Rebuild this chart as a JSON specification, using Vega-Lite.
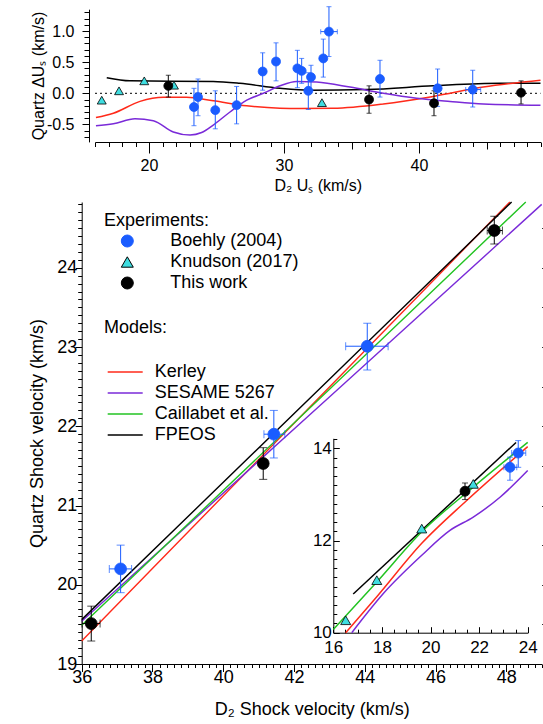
{
  "$schema": "https://vega.github.io/schema/vega-lite/v6.json",
  "width": 543,
  "height": 724,
  "autosize": "none",
  "padding": 0,
  "config": {
    "font": "Liberation Sans",
    "view": {"stroke": null},
    "axis": {"grid": false, "domainColor": "black", "tickColor": "black", "labelColor": "black", "titleColor": "black", "titleFontWeight": "normal", "labelOverlap": false, "labelFlush": false, "labelBound": false, "domainWidth": 1, "tickWidth": 1},
    "legend": {"titleFontWeight": "normal", "titleColor": "black", "labelColor": "black", "padding": 0, "titleFontSize": 18, "labelFontSize": 18}
  },
  "datasets": {
    "top_pts": [
      {"source": "Knudson (2017)", "x": 16.5, "y": -0.11},
      {"source": "Knudson (2017)", "x": 17.78, "y": 0.04},
      {"source": "Knudson (2017)", "x": 19.65, "y": 0.2},
      {"source": "Knudson (2017)", "x": 21.85, "y": 0.13},
      {"source": "Knudson (2017)", "x": 32.81, "y": -0.15},
      {"source": "This work", "x": 21.43, "y": 0.12, "ylo": -0.06, "yhi": 0.29},
      {"source": "This work", "x": 36.3, "y": -0.1, "ylo": -0.32, "yhi": 0.12},
      {"source": "This work", "x": 41.11, "y": -0.16, "ylo": -0.36, "yhi": 0.04},
      {"source": "This work", "x": 47.56, "y": 0.01, "ylo": -0.17, "yhi": 0.2},
      {"source": "Boehly (2004)", "x": 23.33, "y": -0.22, "ylo": -0.52, "yhi": 0.08},
      {"source": "Boehly (2004)", "x": 23.63, "y": -0.06, "ylo": -0.36, "yhi": 0.23},
      {"source": "Boehly (2004)", "x": 24.91, "y": -0.27, "ylo": -0.57, "yhi": 0.04},
      {"source": "Boehly (2004)", "x": 26.49, "y": -0.19, "ylo": -0.49, "yhi": 0.11},
      {"source": "Boehly (2004)", "x": 28.42, "y": 0.35, "ylo": 0.05, "yhi": 0.65},
      {"source": "Boehly (2004)", "x": 29.41, "y": 0.51, "ylo": 0.2, "yhi": 0.81},
      {"source": "Boehly (2004)", "x": 30.99, "y": 0.4, "ylo": 0.09, "yhi": 0.69},
      {"source": "Boehly (2004)", "x": 31.31, "y": 0.36, "ylo": 0.16, "yhi": 0.56},
      {"source": "Boehly (2004)", "x": 31.8, "y": 0.04, "ylo": -0.26, "yhi": 0.33},
      {"source": "Boehly (2004)", "x": 32.0, "y": 0.26, "ylo": 0.05, "yhi": 0.45},
      {"source": "Boehly (2004)", "x": 32.91, "y": 0.56, "ylo": 0.26, "yhi": 0.87},
      {"source": "Boehly (2004)", "x": 33.33, "y": 0.99, "ylo": 0.59, "yhi": 1.39, "xlo": 32.72, "xhi": 33.95},
      {"source": "Boehly (2004)", "x": 37.11, "y": 0.23, "ylo": -0.06, "yhi": 0.53},
      {"source": "Boehly (2004)", "x": 41.38, "y": 0.08, "ylo": -0.21, "yhi": 0.39},
      {"source": "Boehly (2004)", "x": 43.98, "y": 0.06, "ylo": -0.22, "yhi": 0.37, "xlo": 43.46, "xhi": 44.57}
    ],
    "top_lines": [
      {"model": "FPEOS", "x": 16.87, "y": 0.25},
      {"model": "FPEOS", "x": 18.59, "y": 0.2},
      {"model": "FPEOS", "x": 24.76, "y": 0.19},
      {"model": "FPEOS", "x": 26.74, "y": 0.16},
      {"model": "FPEOS", "x": 29.7, "y": 0.08},
      {"model": "FPEOS", "x": 31.93, "y": 0.05},
      {"model": "FPEOS", "x": 36.13, "y": 0.06},
      {"model": "FPEOS", "x": 41.06, "y": 0.12},
      {"model": "FPEOS", "x": 46.0, "y": 0.16},
      {"model": "FPEOS", "x": 49.0, "y": 0.16},
      {"model": "Kerley", "x": 16.07, "y": -0.39},
      {"model": "Kerley", "x": 17.36, "y": -0.32},
      {"model": "Kerley", "x": 19.33, "y": -0.13},
      {"model": "Kerley", "x": 21.06, "y": -0.065},
      {"model": "Kerley", "x": 22.79, "y": -0.065},
      {"model": "Kerley", "x": 24.76, "y": -0.12},
      {"model": "Kerley", "x": 27.23, "y": -0.2},
      {"model": "Kerley", "x": 29.7, "y": -0.24},
      {"model": "Kerley", "x": 31.19, "y": -0.245},
      {"model": "Kerley", "x": 33.65, "y": -0.24},
      {"model": "Kerley", "x": 37.36, "y": -0.17},
      {"model": "Kerley", "x": 41.06, "y": -0.05},
      {"model": "Kerley", "x": 44.76, "y": 0.1},
      {"model": "Kerley", "x": 49.0, "y": 0.21},
      {"model": "SESAME 5267", "x": 16.07, "y": -0.52},
      {"model": "SESAME 5267", "x": 17.36, "y": -0.49},
      {"model": "SESAME 5267", "x": 18.96, "y": -0.41},
      {"model": "SESAME 5267", "x": 20.32, "y": -0.44},
      {"model": "SESAME 5267", "x": 21.8, "y": -0.62},
      {"model": "SESAME 5267", "x": 23.04, "y": -0.67},
      {"model": "SESAME 5267", "x": 23.9, "y": -0.63},
      {"model": "SESAME 5267", "x": 24.76, "y": -0.51},
      {"model": "SESAME 5267", "x": 26.0, "y": -0.3},
      {"model": "SESAME 5267", "x": 27.24, "y": -0.11},
      {"model": "SESAME 5267", "x": 28.47, "y": 0.0},
      {"model": "SESAME 5267", "x": 29.7, "y": 0.12},
      {"model": "SESAME 5267", "x": 30.94, "y": 0.19},
      {"model": "SESAME 5267", "x": 32.42, "y": 0.18},
      {"model": "SESAME 5267", "x": 34.89, "y": 0.1},
      {"model": "SESAME 5267", "x": 37.36, "y": 0.0},
      {"model": "SESAME 5267", "x": 39.83, "y": -0.08},
      {"model": "SESAME 5267", "x": 42.3, "y": -0.13},
      {"model": "SESAME 5267", "x": 44.76, "y": -0.17},
      {"model": "SESAME 5267", "x": 49.0, "y": -0.19}
    ],
    "main_pts": [
      {"source": "This work", "x": 36.27, "y": 19.51, "ylo": 19.29, "yhi": 19.73, "xlo": 36.01, "xhi": 36.52},
      {"source": "Boehly (2004)", "x": 37.1, "y": 20.2, "ylo": 19.9, "yhi": 20.5, "xlo": 36.78, "xhi": 37.41},
      {"source": "This work", "x": 41.13, "y": 21.53, "ylo": 21.33, "yhi": 21.73},
      {"source": "Boehly (2004)", "x": 41.43, "y": 21.9, "ylo": 21.6, "yhi": 22.2, "xlo": 41.15, "xhi": 41.74},
      {"source": "Boehly (2004)", "x": 44.07, "y": 23.01, "ylo": 22.71, "yhi": 23.3, "xlo": 43.46, "xhi": 44.66},
      {"source": "This work", "x": 47.66, "y": 24.47, "ylo": 24.3, "yhi": 24.65, "xlo": 47.46, "xhi": 47.89}
    ],
    "main_lines": [
      {"model": "Kerley", "x": 36.0, "y": 19.29},
      {"model": "Kerley", "x": 43.23, "y": 22.6},
      {"model": "Kerley", "x": 48.1, "y": 24.83},
      {"model": "SESAME 5267", "x": 36.0, "y": 19.54},
      {"model": "SESAME 5267", "x": 43.25, "y": 22.47},
      {"model": "SESAME 5267", "x": 49.0, "y": 24.8},
      {"model": "Caillabet et al.", "x": 36.0, "y": 19.49},
      {"model": "Caillabet et al.", "x": 43.01, "y": 22.47},
      {"model": "Caillabet et al.", "x": 48.55, "y": 24.83},
      {"model": "FPEOS", "x": 36.0, "y": 19.56},
      {"model": "FPEOS", "x": 42.95, "y": 22.57},
      {"model": "FPEOS", "x": 48.15, "y": 24.83}
    ],
    "inset_pts": [
      {"source": "Knudson (2017)", "x": 16.51, "y": 10.27},
      {"source": "Knudson (2017)", "x": 17.79, "y": 11.14},
      {"source": "Knudson (2017)", "x": 19.64, "y": 12.26},
      {"source": "Knudson (2017)", "x": 21.76, "y": 13.23},
      {"source": "This work", "x": 21.42, "y": 13.07, "ylo": 12.89, "yhi": 13.25},
      {"source": "Boehly (2004)", "x": 23.27, "y": 13.59, "ylo": 13.31, "yhi": 13.81, "xlo": 23.02, "xhi": 23.55},
      {"source": "Boehly (2004)", "x": 23.61, "y": 13.9, "ylo": 13.59, "yhi": 14.17, "xlo": 23.34, "xhi": 23.92}
    ],
    "inset_lines": [
      {"model": "FPEOS", "x": 16.82, "y": 10.84},
      {"model": "FPEOS", "x": 23.52, "y": 14.13},
      {"model": "Caillabet et al.", "x": 16.0, "y": 10.07},
      {"model": "Caillabet et al.", "x": 17.79, "y": 11.1},
      {"model": "Caillabet et al.", "x": 19.64, "y": 12.19},
      {"model": "Caillabet et al.", "x": 21.76, "y": 13.16},
      {"model": "Caillabet et al.", "x": 24.0, "y": 14.13},
      {"model": "Kerley", "x": 16.51, "y": 10.0},
      {"model": "Kerley", "x": 17.79, "y": 10.78},
      {"model": "Kerley", "x": 19.64, "y": 11.94},
      {"model": "Kerley", "x": 21.49, "y": 12.87},
      {"model": "Kerley", "x": 24.0, "y": 14.04},
      {"model": "SESAME 5267", "x": 16.76, "y": 10.0},
      {"model": "SESAME 5267", "x": 18.06, "y": 10.85},
      {"model": "SESAME 5267", "x": 19.64, "y": 11.68},
      {"model": "SESAME 5267", "x": 20.8, "y": 12.22},
      {"model": "SESAME 5267", "x": 21.76, "y": 12.51},
      {"model": "SESAME 5267", "x": 22.86, "y": 12.94},
      {"model": "SESAME 5267", "x": 24.0, "y": 13.52}
    ]
  },
  "layer": [
    {
      "layer": [
        {
          "data": {"values": [{}]},
          "mark": {"type": "rule", "strokeDash": [2, 3], "color": "black", "strokeWidth": 1},
          "encoding": {
            "x": {"datum": 16, "type": "quantitative", "scale": {"domain": [16, 49], "range": [95, 540.5], "nice": false, "zero": false},
              "axis": {"orient": "bottom", "offset": -582, "values": [20, 30, 40], "format": "d", "labelOverlap": false, "tickSize": 11, "labelPadding": 4,
                "labelFontSize": 16, "title": "D₂ Uₛ (km/s)", "titleFontSize": 16, "titlePadding": 4}},
            "x2": {"datum": 49},
            "y": {"datum": 0, "type": "quantitative", "scale": {"domain": [-0.78, 1.35], "range": [141.9, 9.2], "nice": false, "zero": false},
              "axis": {"orient": "left", "offset": -89, "values": [-0.5, 0, 0.5, 1.0], "format": ".1f", "labelOverlap": false,
                "labelExpr": "replace(datum.label, '−', '-')", "tickSize": 7, "labelPadding": 8,
                "labelFontSize": 16, "title": "Quartz ΔUₛ (km/s)", "titleFontSize": 16, "titlePadding": 0}}
          }
        },
        {
          "data": {"name": "top_lines"},
          "mark": {"type": "line", "interpolate": "monotone", "strokeWidth": 1.5},
          "encoding": {
            "x": {"field": "x", "type": "quantitative", "scale": {"domain": [16, 49], "range": [95, 540.5], "nice": false, "zero": false}},
            "y": {"field": "y", "type": "quantitative", "scale": {"domain": [-0.78, 1.35], "range": [141.9, 9.2], "nice": false, "zero": false}},
            "color": {"field": "model", "type": "nominal",
              "scale": {"domain": ["Kerley", "SESAME 5267", "Caillabet et al.", "FPEOS"], "range": ["#ff2a1a", "#7a2ad8", "#22c322", "#000000"]},
              "legend": {"title": "Models:", "orient": "none", "legendX": 104, "legendY": 319, "symbolType": "stroke", "symbolSize": 1225, "symbolStrokeWidth": 1.5, "symbolOffset": 2.7, "labelOffset": 11, "titlePadding": 24.5, "rowPadding": 0, "clipHeight": 21}}
          }
        },
        {
          "data": {"name": "top_pts"},
          "transform": [{"filter": "isValid(datum.ylo)"}],
          "mark": {"type": "rule", "strokeWidth": 1},
          "encoding": {
            "x": {"field": "x", "type": "quantitative", "scale": {"domain": [16, 49], "range": [95, 540.5], "nice": false, "zero": false}},
            "y": {"field": "ylo", "type": "quantitative", "scale": {"domain": [-0.78, 1.35], "range": [141.9, 9.2], "nice": false, "zero": false}},
            "y2": {"field": "yhi"},
            "stroke": {"field": "source", "type": "nominal", "scale": {"domain": ["Boehly (2004)", "Knudson (2017)", "This work"], "range": ["#1a5cff", "#000000", "#000000"]}}
          }
        },
        {
          "data": {"name": "top_pts"},
          "transform": [{"filter": "isValid(datum.xlo)"}],
          "mark": {"type": "rule", "strokeWidth": 1},
          "encoding": {
            "x": {"field": "xlo", "type": "quantitative", "scale": {"domain": [16, 49], "range": [95, 540.5], "nice": false, "zero": false}},
            "x2": {"field": "xhi"},
            "y": {"field": "y", "type": "quantitative", "scale": {"domain": [-0.78, 1.35], "range": [141.9, 9.2], "nice": false, "zero": false}},
            "stroke": {"field": "source", "type": "nominal", "scale": {"domain": ["Boehly (2004)", "Knudson (2017)", "This work"], "range": ["#1a5cff", "#000000", "#000000"]}}
          }
        },
        {
          "data": {"name": "top_pts"},
          "transform": [{"filter": "isValid(datum.ylo)"}],
          "mark": {"type": "tick", "orient": "horizontal", "size": 5, "thickness": 1},
          "encoding": {
            "x": {"field": "x", "type": "quantitative", "scale": {"domain": [16, 49], "range": [95, 540.5], "nice": false, "zero": false}},
            "y": {"field": "ylo", "type": "quantitative", "scale": {"domain": [-0.78, 1.35], "range": [141.9, 9.2], "nice": false, "zero": false}},
            "fill": {"field": "source", "type": "nominal", "scale": {"domain": ["Boehly (2004)", "Knudson (2017)", "This work"], "range": ["#1a5cff", "#3fdde0", "#000000"]}}
          }
        },
        {
          "data": {"name": "top_pts"},
          "transform": [{"filter": "isValid(datum.yhi)"}],
          "mark": {"type": "tick", "orient": "horizontal", "size": 5, "thickness": 1},
          "encoding": {
            "x": {"field": "x", "type": "quantitative", "scale": {"domain": [16, 49], "range": [95, 540.5], "nice": false, "zero": false}},
            "y": {"field": "yhi", "type": "quantitative", "scale": {"domain": [-0.78, 1.35], "range": [141.9, 9.2], "nice": false, "zero": false}},
            "fill": {"field": "source", "type": "nominal", "scale": {"domain": ["Boehly (2004)", "Knudson (2017)", "This work"], "range": ["#1a5cff", "#3fdde0", "#000000"]}}
          }
        },
        {
          "data": {"name": "top_pts"},
          "transform": [{"filter": "isValid(datum.xlo)"}],
          "mark": {"type": "tick", "orient": "vertical", "size": 5, "thickness": 1},
          "encoding": {
            "x": {"field": "xlo", "type": "quantitative", "scale": {"domain": [16, 49], "range": [95, 540.5], "nice": false, "zero": false}},
            "y": {"field": "y", "type": "quantitative", "scale": {"domain": [-0.78, 1.35], "range": [141.9, 9.2], "nice": false, "zero": false}},
            "fill": {"field": "source", "type": "nominal", "scale": {"domain": ["Boehly (2004)", "Knudson (2017)", "This work"], "range": ["#1a5cff", "#3fdde0", "#000000"]}}
          }
        },
        {
          "data": {"name": "top_pts"},
          "transform": [{"filter": "isValid(datum.xhi)"}],
          "mark": {"type": "tick", "orient": "vertical", "size": 5, "thickness": 1},
          "encoding": {
            "x": {"field": "xhi", "type": "quantitative", "scale": {"domain": [16, 49], "range": [95, 540.5], "nice": false, "zero": false}},
            "y": {"field": "y", "type": "quantitative", "scale": {"domain": [-0.78, 1.35], "range": [141.9, 9.2], "nice": false, "zero": false}},
            "fill": {"field": "source", "type": "nominal", "scale": {"domain": ["Boehly (2004)", "Knudson (2017)", "This work"], "range": ["#1a5cff", "#3fdde0", "#000000"]}}
          }
        },
        {
          "data": {"name": "top_pts"},
          "mark": {"type": "point", "filled": true, "size": 80, "strokeWidth": 0.8, "opacity": 1},
          "encoding": {
            "x": {"field": "x", "type": "quantitative", "scale": {"domain": [16, 49], "range": [95, 540.5], "nice": false, "zero": false}},
            "y": {"field": "y", "type": "quantitative", "scale": {"domain": [-0.78, 1.35], "range": [141.9, 9.2], "nice": false, "zero": false}},
            "fill": {"field": "source", "type": "nominal", "scale": {"domain": ["Boehly (2004)", "Knudson (2017)", "This work"], "range": ["#1a5cff", "#3fdde0", "#000000"]},
              "legend": {"title": "Experiments:", "orient": "none", "legendX": 104, "legendY": 212, "symbolSize": 144, "symbolStrokeWidth": 1, "symbolOffset": 14.3, "labelOffset": 34, "titlePadding": 2, "rowPadding": 3}},
            "stroke": {"field": "source", "type": "nominal", "scale": {"domain": ["Boehly (2004)", "Knudson (2017)", "This work"], "range": ["#1a5cff", "#000000", "#000000"]}},
            "shape": {"field": "source", "type": "nominal", "scale": {"domain": ["Boehly (2004)", "Knudson (2017)", "This work"], "range": ["circle", "triangle-up", "circle"]}}
          }
        }
      ]
    },
    {
      "data": {"name": "top_pts"},
      "mark": {"type": "point", "opacity": 0},
      "encoding": {
        "x": {"field": "x", "type": "quantitative", "scale": {"domain": [16, 49], "range": [95, 540.5], "nice": false, "zero": false},
          "axis": {"orient": "bottom", "offset": -582, "values": [16,17,18,19,21,22,23,24,26,27,28,29,31,32,33,34,36,37,38,39,41,42,43,44,46,47,48,49], "labels": false, "domain": false, "tickSize": 4.5, "title": null}},
        "y": {"field": "y", "type": "quantitative", "scale": {"domain": [-0.78, 1.35], "range": [141.9, 9.2], "nice": false, "zero": false},
          "axis": {"orient": "left", "offset": -89, "values": [-0.7,-0.6,-0.4,-0.3,-0.2,-0.1,0.1,0.2,0.3,0.4,0.6,0.7,0.8,0.9,1.1,1.2,1.3], "labels": false, "domain": false, "tickSize": 5, "title": null}}
      }
    },
    {
      "data": {"name": "top_pts"},
      "mark": {"type": "point", "opacity": 0},
      "encoding": {
        "x": {"field": "x", "type": "quantitative", "scale": {"domain": [16, 49], "range": [95, 540.5], "nice": false, "zero": false},
          "axis": {"orient": "bottom", "offset": -582, "values": [25, 35, 45], "labels": false, "domain": false, "tickSize": 7, "title": null}}
      }
    },
    {
      "layer": [
        {
          "data": {"name": "main_lines"},
          "mark": {"type": "line", "strokeWidth": 1.4},
          "encoding": {
            "x": {"field": "x", "type": "quantitative", "scale": {"domain": [36, 49], "range": [81.7, 541.7], "nice": false, "zero": false},
              "axis": {"orient": "bottom", "offset": -60, "values": [36, 38, 40, 42, 44, 46, 48], "format": "d", "labelOverlap": false, "tickSize": 7.5, "labelPadding": -3,
                "labelFontSize": 18, "title": "D₂ Shock velocity (km/s)", "titleFontSize": 18, "titlePadding": 14}},
            "y": {"field": "y", "type": "quantitative", "scale": {"domain": [19, 24.83], "range": [664, 202], "nice": false, "zero": false},
              "axis": {"orient": "left", "offset": -81.7, "values": [19, 20, 21, 22, 23, 24], "format": "d", "labelOverlap": false, "tickSize": 6.5, "labelPadding": -1.5,
                "labelFontSize": 18, "title": "Quartz Shock velocity (km/s)", "titleFontSize": 18, "titlePadding": 10}},
            "color": {"field": "model", "type": "nominal", "scale": {"domain": ["Kerley", "SESAME 5267", "Caillabet et al.", "FPEOS"], "range": ["#ff2a1a", "#7a2ad8", "#22c322", "#000000"]}}
          }
        },
        {
          "data": {"name": "main_pts"},
          "transform": [{"filter": "isValid(datum.ylo)"}],
          "mark": {"type": "rule", "strokeWidth": 1},
          "encoding": {
            "x": {"field": "x", "type": "quantitative", "scale": {"domain": [36, 49], "range": [81.7, 541.7], "nice": false, "zero": false}},
            "y": {"field": "ylo", "type": "quantitative", "scale": {"domain": [19, 24.83], "range": [664, 202], "nice": false, "zero": false}},
            "y2": {"field": "yhi"},
            "stroke": {"field": "source", "type": "nominal", "scale": {"domain": ["Boehly (2004)", "Knudson (2017)", "This work"], "range": ["#1a5cff", "#000000", "#000000"]}}
          }
        },
        {
          "data": {"name": "main_pts"},
          "transform": [{"filter": "isValid(datum.xlo)"}],
          "mark": {"type": "rule", "strokeWidth": 1},
          "encoding": {
            "x": {"field": "xlo", "type": "quantitative", "scale": {"domain": [36, 49], "range": [81.7, 541.7], "nice": false, "zero": false}},
            "x2": {"field": "xhi"},
            "y": {"field": "y", "type": "quantitative", "scale": {"domain": [19, 24.83], "range": [664, 202], "nice": false, "zero": false}},
            "stroke": {"field": "source", "type": "nominal", "scale": {"domain": ["Boehly (2004)", "Knudson (2017)", "This work"], "range": ["#1a5cff", "#000000", "#000000"]}}
          }
        },
        {
          "data": {"name": "main_pts"},
          "transform": [{"filter": "isValid(datum.ylo)"}],
          "mark": {"type": "tick", "orient": "horizontal", "size": 8, "thickness": 1},
          "encoding": {
            "x": {"field": "x", "type": "quantitative", "scale": {"domain": [36, 49], "range": [81.7, 541.7], "nice": false, "zero": false}},
            "y": {"field": "ylo", "type": "quantitative", "scale": {"domain": [19, 24.83], "range": [664, 202], "nice": false, "zero": false}},
            "fill": {"field": "source", "type": "nominal", "scale": {"domain": ["Boehly (2004)", "Knudson (2017)", "This work"], "range": ["#1a5cff", "#3fdde0", "#000000"]}}
          }
        },
        {
          "data": {"name": "main_pts"},
          "transform": [{"filter": "isValid(datum.yhi)"}],
          "mark": {"type": "tick", "orient": "horizontal", "size": 8, "thickness": 1},
          "encoding": {
            "x": {"field": "x", "type": "quantitative", "scale": {"domain": [36, 49], "range": [81.7, 541.7], "nice": false, "zero": false}},
            "y": {"field": "yhi", "type": "quantitative", "scale": {"domain": [19, 24.83], "range": [664, 202], "nice": false, "zero": false}},
            "fill": {"field": "source", "type": "nominal", "scale": {"domain": ["Boehly (2004)", "Knudson (2017)", "This work"], "range": ["#1a5cff", "#3fdde0", "#000000"]}}
          }
        },
        {
          "data": {"name": "main_pts"},
          "transform": [{"filter": "isValid(datum.xlo)"}],
          "mark": {"type": "tick", "orient": "vertical", "size": 8, "thickness": 1},
          "encoding": {
            "x": {"field": "xlo", "type": "quantitative", "scale": {"domain": [36, 49], "range": [81.7, 541.7], "nice": false, "zero": false}},
            "y": {"field": "y", "type": "quantitative", "scale": {"domain": [19, 24.83], "range": [664, 202], "nice": false, "zero": false}},
            "fill": {"field": "source", "type": "nominal", "scale": {"domain": ["Boehly (2004)", "Knudson (2017)", "This work"], "range": ["#1a5cff", "#3fdde0", "#000000"]}}
          }
        },
        {
          "data": {"name": "main_pts"},
          "transform": [{"filter": "isValid(datum.xhi)"}],
          "mark": {"type": "tick", "orient": "vertical", "size": 8, "thickness": 1},
          "encoding": {
            "x": {"field": "xhi", "type": "quantitative", "scale": {"domain": [36, 49], "range": [81.7, 541.7], "nice": false, "zero": false}},
            "y": {"field": "y", "type": "quantitative", "scale": {"domain": [19, 24.83], "range": [664, 202], "nice": false, "zero": false}},
            "fill": {"field": "source", "type": "nominal", "scale": {"domain": ["Boehly (2004)", "Knudson (2017)", "This work"], "range": ["#1a5cff", "#3fdde0", "#000000"]}}
          }
        },
        {
          "data": {"name": "main_pts"},
          "mark": {"type": "point", "filled": true, "size": 140, "strokeWidth": 0.8, "opacity": 1},
          "encoding": {
            "x": {"field": "x", "type": "quantitative", "scale": {"domain": [36, 49], "range": [81.7, 541.7], "nice": false, "zero": false}},
            "y": {"field": "y", "type": "quantitative", "scale": {"domain": [19, 24.83], "range": [664, 202], "nice": false, "zero": false}},
            "fill": {"field": "source", "type": "nominal", "scale": {"domain": ["Boehly (2004)", "Knudson (2017)", "This work"], "range": ["#1a5cff", "#3fdde0", "#000000"]}},
            "stroke": {"field": "source", "type": "nominal", "scale": {"domain": ["Boehly (2004)", "Knudson (2017)", "This work"], "range": ["#1a5cff", "#000000", "#000000"]}},
            "shape": {"field": "source", "type": "nominal", "scale": {"domain": ["Boehly (2004)", "Knudson (2017)", "This work"], "range": ["circle", "triangle-up", "circle"]}}
          }
        }
      ]
    },
    {
      "data": {"name": "main_pts"},
      "mark": {"type": "point", "opacity": 0},
      "encoding": {
        "x": {"field": "x", "type": "quantitative", "scale": {"domain": [36, 49], "range": [81.7, 541.7], "nice": false, "zero": false},
          "axis": {"orient": "bottom", "offset": -60, "values": [36.2,36.4,36.6,36.8,37,37.2,37.4,37.6,37.8,38.2,38.4,38.6,38.8,39,39.2,39.4,39.6,39.8,40.2,40.4,40.6,40.8,41,41.2,41.4,41.6,41.8,42.2,42.4,42.6,42.8,43,43.2,43.4,43.6,43.8,44.2,44.4,44.6,44.8,45,45.2,45.4,45.6,45.8,46.2,46.4,46.6,46.8,47,47.2,47.4,47.6,47.8,48.2,48.4,48.6,48.8,49], "labels": false, "domain": false, "tickSize": 3.5, "title": null}},
        "y": {"field": "y", "type": "quantitative", "scale": {"domain": [19, 24.83], "range": [664, 202], "nice": false, "zero": false},
          "axis": {"orient": "left", "offset": -81.7, "values": [19.1,19.2,19.3,19.4,19.5,19.6,19.7,19.8,19.9,20.1,20.2,20.3,20.4,20.5,20.6,20.7,20.8,20.9,21.1,21.2,21.3,21.4,21.5,21.6,21.7,21.8,21.9,22.1,22.2,22.3,22.4,22.5,22.6,22.7,22.8,22.9,23.1,23.2,23.3,23.4,23.5,23.6,23.7,23.8,23.9,24.1,24.2,24.3,24.4,24.5,24.6,24.7,24.8], "labels": false, "domain": false, "tickSize": 4, "title": null}}
      }
    },
    {
      "data": {"name": "main_pts"},
      "mark": {"type": "point", "opacity": 0},
      "encoding": {
        "y": {"field": "y", "type": "quantitative", "scale": {"domain": [19, 24.83], "range": [664, 202], "nice": false, "zero": false},
          "axis": {"orient": "right", "offset": -1.3, "values": [19.5,20,20.5,21,21.5,22,22.5,23,23.5,24,24.5], "labels": false, "domain": false, "tickSize": 4, "title": null}}
      }
    },
    {
      "layer": [
        {
          "data": {"name": "inset_lines"},
          "mark": {"type": "line", "interpolate": "monotone", "strokeWidth": 1.5},
          "encoding": {
            "x": {"field": "x", "type": "quantitative", "scale": {"domain": [16, 24], "range": [333.3, 527.7], "nice": false, "zero": false},
              "axis": {"orient": "bottom", "offset": -91.3, "values": [16, 18, 20, 22, 24], "format": "d", "labelOverlap": false, "tickSize": -6, "labelPadding": 13,
                "labelFontSize": 17, "title": null}},
            "y": {"field": "y", "type": "quantitative", "scale": {"domain": [10, 14.22], "range": [632.7, 438.3], "nice": false, "zero": false},
              "axis": {"orient": "left", "offset": -333.3, "values": [10, 12, 14], "format": "d", "labelOverlap": false, "tickSize": -6, "labelPadding": 8,
                "labelFontSize": 17, "title": null}},
            "color": {"field": "model", "type": "nominal", "scale": {"domain": ["Kerley", "SESAME 5267", "Caillabet et al.", "FPEOS"], "range": ["#ff2a1a", "#7a2ad8", "#22c322", "#000000"]}}
          }
        },
        {
          "data": {"name": "inset_pts"},
          "transform": [{"filter": "isValid(datum.ylo)"}],
          "mark": {"type": "rule", "strokeWidth": 1},
          "encoding": {
            "x": {"field": "x", "type": "quantitative", "scale": {"domain": [16, 24], "range": [333.3, 527.7], "nice": false, "zero": false}},
            "y": {"field": "ylo", "type": "quantitative", "scale": {"domain": [10, 14.22], "range": [632.7, 438.3], "nice": false, "zero": false}},
            "y2": {"field": "yhi"},
            "stroke": {"field": "source", "type": "nominal", "scale": {"domain": ["Boehly (2004)", "Knudson (2017)", "This work"], "range": ["#1a5cff", "#000000", "#000000"]}}
          }
        },
        {
          "data": {"name": "inset_pts"},
          "transform": [{"filter": "isValid(datum.xlo)"}],
          "mark": {"type": "rule", "strokeWidth": 1},
          "encoding": {
            "x": {"field": "xlo", "type": "quantitative", "scale": {"domain": [16, 24], "range": [333.3, 527.7], "nice": false, "zero": false}},
            "x2": {"field": "xhi"},
            "y": {"field": "y", "type": "quantitative", "scale": {"domain": [10, 14.22], "range": [632.7, 438.3], "nice": false, "zero": false}},
            "stroke": {"field": "source", "type": "nominal", "scale": {"domain": ["Boehly (2004)", "Knudson (2017)", "This work"], "range": ["#1a5cff", "#000000", "#000000"]}}
          }
        },
        {
          "data": {"name": "inset_pts"},
          "transform": [{"filter": "isValid(datum.ylo)"}],
          "mark": {"type": "tick", "orient": "horizontal", "size": 6, "thickness": 1},
          "encoding": {
            "x": {"field": "x", "type": "quantitative", "scale": {"domain": [16, 24], "range": [333.3, 527.7], "nice": false, "zero": false}},
            "y": {"field": "ylo", "type": "quantitative", "scale": {"domain": [10, 14.22], "range": [632.7, 438.3], "nice": false, "zero": false}},
            "fill": {"field": "source", "type": "nominal", "scale": {"domain": ["Boehly (2004)", "Knudson (2017)", "This work"], "range": ["#1a5cff", "#3fdde0", "#000000"]}}
          }
        },
        {
          "data": {"name": "inset_pts"},
          "transform": [{"filter": "isValid(datum.yhi)"}],
          "mark": {"type": "tick", "orient": "horizontal", "size": 6, "thickness": 1},
          "encoding": {
            "x": {"field": "x", "type": "quantitative", "scale": {"domain": [16, 24], "range": [333.3, 527.7], "nice": false, "zero": false}},
            "y": {"field": "yhi", "type": "quantitative", "scale": {"domain": [10, 14.22], "range": [632.7, 438.3], "nice": false, "zero": false}},
            "fill": {"field": "source", "type": "nominal", "scale": {"domain": ["Boehly (2004)", "Knudson (2017)", "This work"], "range": ["#1a5cff", "#3fdde0", "#000000"]}}
          }
        },
        {
          "data": {"name": "inset_pts"},
          "transform": [{"filter": "isValid(datum.xlo)"}],
          "mark": {"type": "tick", "orient": "vertical", "size": 6, "thickness": 1},
          "encoding": {
            "x": {"field": "xlo", "type": "quantitative", "scale": {"domain": [16, 24], "range": [333.3, 527.7], "nice": false, "zero": false}},
            "y": {"field": "y", "type": "quantitative", "scale": {"domain": [10, 14.22], "range": [632.7, 438.3], "nice": false, "zero": false}},
            "fill": {"field": "source", "type": "nominal", "scale": {"domain": ["Boehly (2004)", "Knudson (2017)", "This work"], "range": ["#1a5cff", "#3fdde0", "#000000"]}}
          }
        },
        {
          "data": {"name": "inset_pts"},
          "transform": [{"filter": "isValid(datum.xhi)"}],
          "mark": {"type": "tick", "orient": "vertical", "size": 6, "thickness": 1},
          "encoding": {
            "x": {"field": "xhi", "type": "quantitative", "scale": {"domain": [16, 24], "range": [333.3, 527.7], "nice": false, "zero": false}},
            "y": {"field": "y", "type": "quantitative", "scale": {"domain": [10, 14.22], "range": [632.7, 438.3], "nice": false, "zero": false}},
            "fill": {"field": "source", "type": "nominal", "scale": {"domain": ["Boehly (2004)", "Knudson (2017)", "This work"], "range": ["#1a5cff", "#3fdde0", "#000000"]}}
          }
        },
        {
          "data": {"name": "inset_pts"},
          "mark": {"type": "point", "filled": true, "size": 100, "strokeWidth": 0.8, "opacity": 1},
          "encoding": {
            "x": {"field": "x", "type": "quantitative", "scale": {"domain": [16, 24], "range": [333.3, 527.7], "nice": false, "zero": false}},
            "y": {"field": "y", "type": "quantitative", "scale": {"domain": [10, 14.22], "range": [632.7, 438.3], "nice": false, "zero": false}},
            "fill": {"field": "source", "type": "nominal", "scale": {"domain": ["Boehly (2004)", "Knudson (2017)", "This work"], "range": ["#1a5cff", "#3fdde0", "#000000"]}},
            "stroke": {"field": "source", "type": "nominal", "scale": {"domain": ["Boehly (2004)", "Knudson (2017)", "This work"], "range": ["#1a5cff", "#000000", "#000000"]}},
            "shape": {"field": "source", "type": "nominal", "scale": {"domain": ["Boehly (2004)", "Knudson (2017)", "This work"], "range": ["circle", "triangle-up", "circle"]}}
          }
        }
      ]
    },
    {
      "data": {"name": "inset_pts"},
      "mark": {"type": "point", "opacity": 0},
      "encoding": {
        "x": {"field": "x", "type": "quantitative", "scale": {"domain": [16, 24], "range": [333.3, 527.7], "nice": false, "zero": false},
          "axis": {"orient": "bottom", "offset": -91.3, "values": [16.5,17,17.5,18.5,19,19.5,20.5,21,21.5,22.5,23,23.5], "labels": false, "domain": false, "tickSize": -3.5, "title": null}},
        "y": {"field": "y", "type": "quantitative", "scale": {"domain": [10, 14.22], "range": [632.7, 438.3], "nice": false, "zero": false},
          "axis": {"orient": "left", "offset": -333.3, "values": [10.2,10.4,10.6,10.8,11,11.2,11.4,11.6,11.8,12.2,12.4,12.6,12.8,13,13.2,13.4,13.6,13.8,14.2], "labels": false, "domain": false, "tickSize": -3.5, "title": null}}
      }
    }
  ],
  "resolve": {"scale": {"x": "independent", "y": "independent"}, "axis": {"x": "independent", "y": "independent"}}
}
